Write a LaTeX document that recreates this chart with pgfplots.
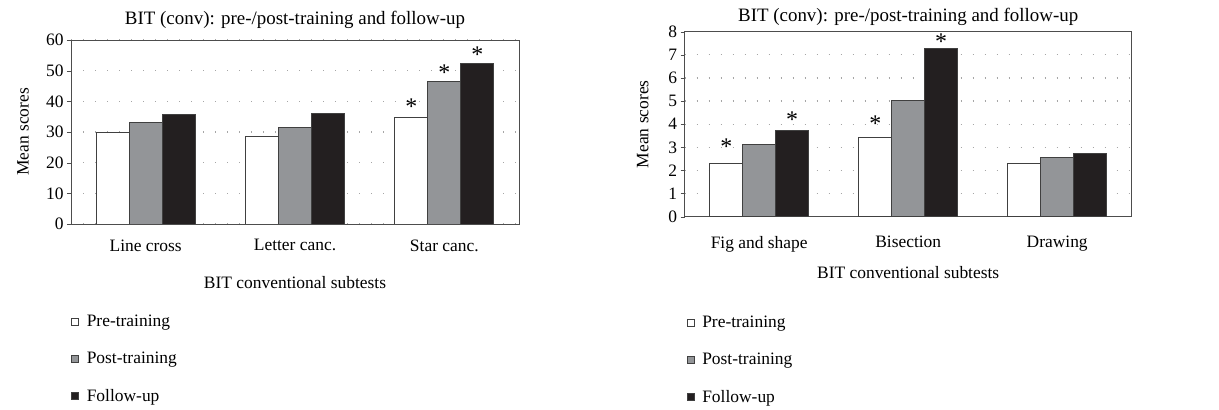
\documentclass[border=0pt]{standalone}
\usepackage{pgfplots}
\pgfplotsset{compat=1.18}
\usepackage{fontspec}
\setmainfont{Liberation Serif}
\definecolor{barblack}{HTML}{231F20}
\definecolor{bargray}{HTML}{939598}
\definecolor{edge}{HTML}{404040}
\definecolor{axline}{HTML}{4D4D4D}
\pgfplotsset{
  bitstyle/.style={
    scale only axis,
    font=\fontsize{17.5}{20}\selectfont,
    /pgf/number format/assume math mode=true,
    ybar, bar width=0.221,
    xmin=-0.5, xmax=2.5, ymin=0,
    xtick={0,1,2},
    xtick pos=bottom, ytick pos=left,
    major x tick style={draw=none},
    extra x ticks={-0.5,0.5,1.5,2.5},
    extra x tick labels={},
    extra x tick style={major tick length=6bp, tick align=outside, major tick style={draw=axline, thick}, grid=none},
    ytick align=outside, major tick length=4bp,
    ytick style={draw=axline},
    axis line style={draw=axline, line width=0.9bp},
    ymajorgrids,
    grid style={draw=gray!70, line width=1.2bp, dash pattern=on 1.2bp off 10.8bp},
    ylabel={Mean scores},
    xlabel={BIT conventional subtests},
    title={BIT (conv): pre-/post-training and follow-up},
    title style={font=\fontsize{19}{21}\selectfont},
    legend style={draw=none, fill=none, inner sep=0pt, anchor=north west,
      row sep=22bp, font=\fontsize{17.5}{20}\selectfont,
      nodes={inner sep=1bp},
      /tikz/every odd column/.style={column sep=7bp}},
    legend cell align=left,
    legend image code/.code={\draw[#1, line width=0.6bp] (0bp,-3.5bp) rectangle (7bp,3.5bp);},
  },
  sPre/.style={fill=white, draw=edge, line width=0.9bp, bar shift=-0.221},
  sPost/.style={fill=bargray, draw=edge, line width=0.9bp, bar shift=0},
  sFol/.style={fill=barblack, draw=edge, line width=0.9bp, bar shift=0.221},
  star/.style={draw=none, fill=none, forget plot, nodes near coords={*},
    every node near coord/.append style={anchor=center, font=\fontsize{24}{24}\selectfont, yshift=-3bp, inner sep=0pt}},
}
\begin{document}
\begin{tikzpicture}
\useasboundingbox (0,0) rectangle (1219bp,410bp);
% Left chart
\begin{axis}[bitstyle,
  at={(71bp,186bp)}, anchor=south west,
  width=448bp, height=184bp,
  ymax=60, ytick={0,10,20,30,40,50,60},
  xticklabels={Line cross, Letter canc., Star canc.},
  xticklabel style={yshift=-8bp},
  ylabel style={at={(axis description cs:-0.107,0.5)}, anchor=center},
  xlabel style={at={(axis description cs:0.5,-0.32)}, anchor=center},
  title style={at={(axis description cs:0.5,1)}, anchor=south, yshift=2bp},
  legend style={at={(axis description cs:0,-0.49)}},
]
\addplot[sPre] coordinates {(0,29.8) (1,28.7) (2,34.7)};
\addlegendentry{Pre-training}
\addplot[sPost] coordinates {(0,33.2) (1,31.6) (2,46.4)};
\addlegendentry{Post-training}
\addplot[sFol] coordinates {(0,35.8) (1,36.1) (2,52.2)};
\addlegendentry{Follow-up}
\addplot[star, bar shift=-0.221] coordinates {(2,39.1)};
\addplot[star, bar shift=0] coordinates {(2,50.2)};
\addplot[star, bar shift=0.221] coordinates {(2,56.2)};
\end{axis}
% Right chart
\begin{axis}[bitstyle,
  at={(684.7bp,193.3bp)}, anchor=south west,
  width=447bp, height=185bp,
  ymax=8, ytick={0,1,2,3,4,5,6,7,8},
  xticklabels={Fig and shape, Bisection, Drawing},
  xticklabel style={yshift=-12bp},
  ylabel style={at={(axis description cs:-0.094,0.5)}, anchor=center},
  xlabel style={at={(axis description cs:0.5,-0.303)}, anchor=center},
  title style={at={(axis description cs:0.5,1)}, anchor=south, yshift=-3bp},
  legend style={at={(axis description cs:0.004,-0.53)}},
]
\addplot[sPre] coordinates {(0,2.29) (1,3.44) (2,2.29)};
\addlegendentry{Pre-training}
\addplot[sPost] coordinates {(0,3.14) (1,5.01) (2,2.58)};
\addlegendentry{Post-training}
\addplot[sFol] coordinates {(0,3.72) (1,7.29) (2,2.72)};
\addlegendentry{Follow-up}
\addplot[star, bar shift=-0.221] coordinates {(0,3.14) (1,4.15)};
\addplot[star, bar shift=0.221] coordinates {(0,4.32) (1,7.71)};
\end{axis}
\end{tikzpicture}
\end{document}
